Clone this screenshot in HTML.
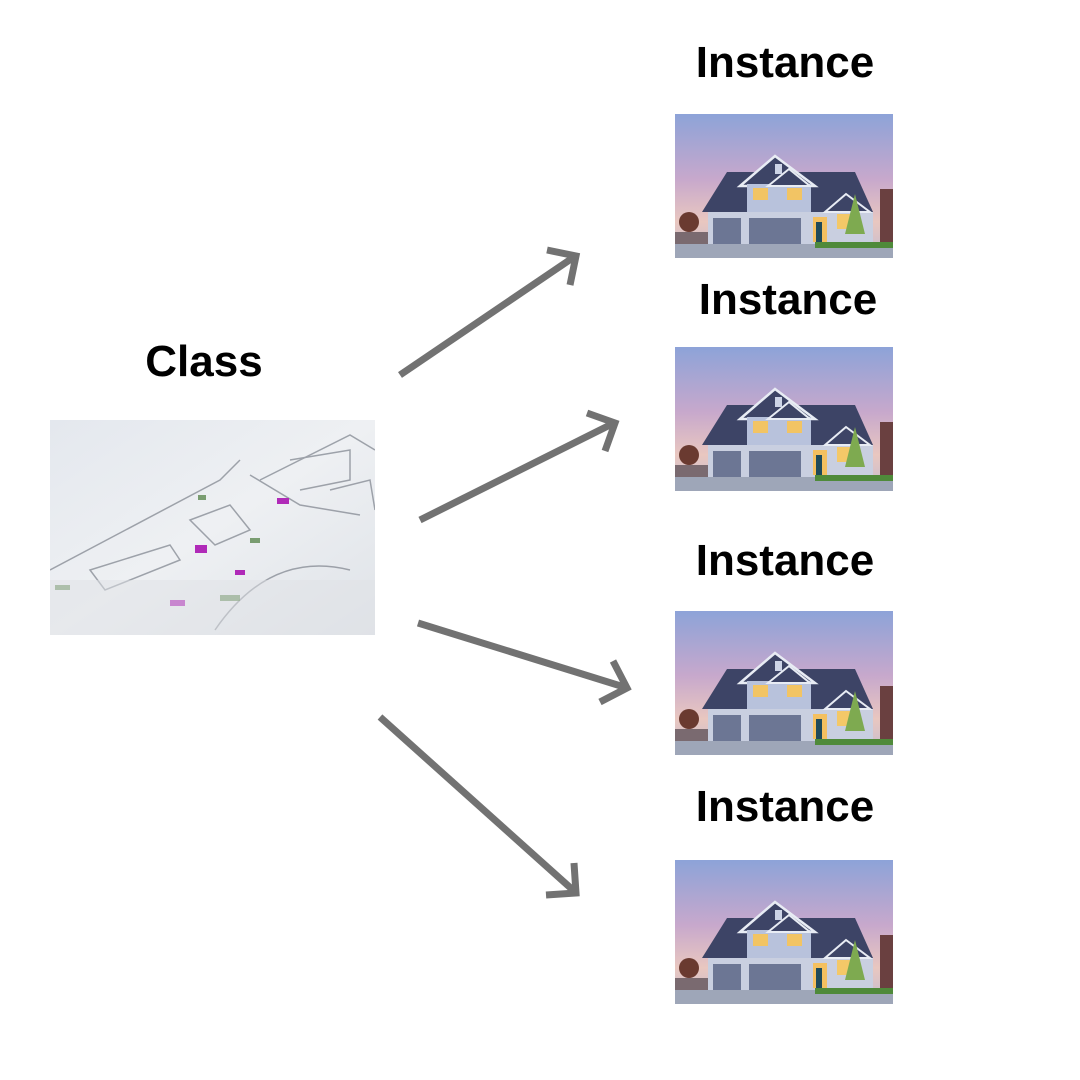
<!DOCTYPE html>
<html><head><meta charset="utf-8"><style>
body{margin:0;width:1080px;height:1080px;background:#fff;position:relative;overflow:hidden;font-family:"Liberation Sans",sans-serif}
.t{position:absolute;font-weight:bold;font-size:44px;color:#000;text-align:center;width:300px;line-height:50px}
.h{position:absolute;width:218px;height:144px}
</style></head><body>
<div class="t" style="left:635px;top:38px">Instance</div>
<div class="t" style="left:638px;top:275px">Instance</div>
<div class="t" style="left:635px;top:536px">Instance</div>
<div class="t" style="left:635px;top:782px">Instance</div>
<div class="t" style="left:54px;top:337px">Class</div>

<svg style="position:absolute;left:50px;top:420px" width="325" height="215" viewBox="0 0 325 215">
<defs><linearGradient id="bp" x1="0" y1="0" x2="1" y2="1"><stop offset="0" stop-color="#e4e8ee"/><stop offset="0.5" stop-color="#eef0f3"/><stop offset="1" stop-color="#dfe3e8"/></linearGradient></defs>
<rect width="325" height="215" fill="url(#bp)"/>
<g fill="none" stroke="#8a8f98" stroke-width="1.5" opacity="0.8">
<path d="M0 150 L170 60 L190 40"/><path d="M40 150 L120 125 L130 140 L55 170 Z"/>
<path d="M210 60 L300 15 L325 30"/><path d="M200 55 L250 85 L310 95"/>
<path d="M140 100 L180 85 L200 110 L165 125 Z"/><path d="M165 210 Q220 130 300 150"/>
<path d="M240 40 L300 30 L300 60 L250 70"/><path d="M280 70 L320 60 L325 90"/>
</g>
<g fill="#b02ab8"><rect x="227" y="78" width="12" height="6"/><rect x="145" y="125" width="12" height="8"/><rect x="185" y="150" width="10" height="5"/><rect x="120" y="180" width="15" height="6"/></g>
<g fill="#4a7a3a" opacity="0.7"><rect x="148" y="75" width="8" height="5"/><rect x="200" y="118" width="10" height="5"/><rect x="5" y="165" width="15" height="5"/><rect x="170" y="175" width="20" height="6"/></g>
<rect x="0" y="160" width="325" height="55" fill="#dfe2e6" opacity="0.5"/>
</svg>

<svg width="0" height="0" style="position:absolute">
<defs>
<linearGradient id="sky" x1="0" y1="0" x2="0" y2="1"><stop offset="0" stop-color="#8da3d8"/><stop offset="0.45" stop-color="#c7a8cc"/><stop offset="0.75" stop-color="#e9c7c0"/><stop offset="1" stop-color="#c3bcd0"/></linearGradient>
</defs></svg>

<div id="houses"></div>
<script>
var s='<svg class="h" viewBox="0 0 218 144"><rect width="218" height="144" fill="url(#sky)"/>'+
'<rect x="0" y="118" width="40" height="14" fill="#7a6a70"/><circle cx="14" cy="108" r="10" fill="#6a3a30"/>'+
'<rect x="205" y="75" width="13" height="55" fill="#6a4040"/>'+
'<polygon points="27,98 52,58 180,58 198,98" fill="#3d4466"/>'+
'<polygon points="65,72 100,42 140,72" fill="#3d4466" stroke="#e8ecf4" stroke-width="2.5"/>'+
'<rect x="72" y="70" width="64" height="30" fill="#b8c2dc"/>'+
'<polygon points="93,72 114,55 135,72" fill="#3d4466" stroke="#e8ecf4" stroke-width="2"/>'+
'<rect x="78" y="74" width="15" height="12" fill="#f2c464"/><rect x="112" y="74" width="15" height="12" fill="#f2c464"/>'+
'<rect x="100" y="50" width="7" height="10" fill="#cdd4e6"/>'+
'<rect x="33" y="98" width="165" height="32" fill="#c9cfe0"/>'+
'<polygon points="150,98 171,80 195,98" fill="#3d4466" stroke="#e8ecf4" stroke-width="2"/>'+
'<rect x="38" y="104" width="28" height="26" fill="#6c7694"/><rect x="74" y="104" width="52" height="26" fill="#6c7694"/>'+
'<rect x="138" y="103" width="14" height="25" fill="#f4c060"/><rect x="141" y="108" width="6" height="20" fill="#1f4a5a"/>'+
'<rect x="162" y="100" width="22" height="15" fill="#f4c868"/>'+
'<polygon points="180,80 190,120 170,120" fill="#7eaa50"/>'+
'<rect x="0" y="130" width="218" height="14" fill="#9ea6b8"/><rect x="140" y="128" width="78" height="6" fill="#4f8a3a"/>'+
'</svg>';
var pos=[[675,114],[675,347],[675,611],[675,860]],h='';
pos.forEach(function(p){h+=s.replace('class="h"','class="h" style="left:'+p[0]+'px;top:'+p[1]+'px"');});
document.getElementById('houses').innerHTML=h;
</script>

<svg style="position:absolute;left:0;top:0" width="1080" height="1080">
<g stroke="#727272" stroke-width="7" fill="none" stroke-linecap="butt" stroke-linejoin="miter">
<line x1="400" y1="375" x2="574" y2="257"/><polyline points="547,250 576,256 570,285"/>
<line x1="420" y1="520" x2="612" y2="424"/><polyline points="587,413 615,423 605,451"/>
<line x1="418" y1="623" x2="624" y2="687"/><polyline points="613,661 627,688 600,702"/>
<line x1="380" y1="717" x2="574" y2="891"/><polyline points="574,863 576,893 546,895"/>
</g></svg>
</body></html>
